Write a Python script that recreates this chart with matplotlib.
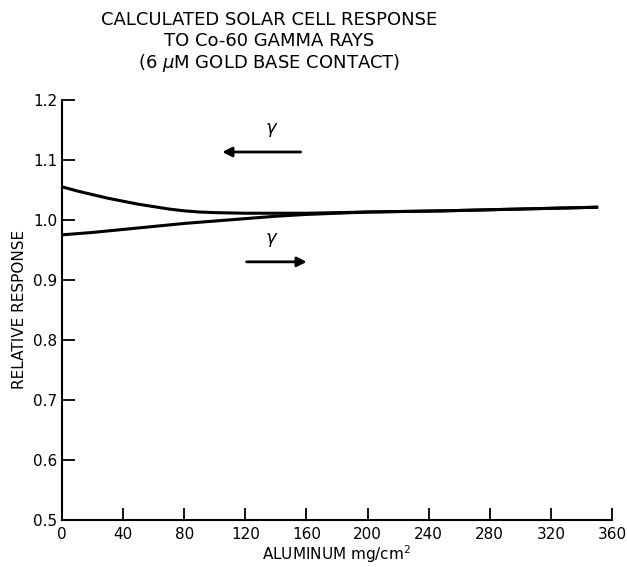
import numpy as np
from matplotlib import pyplot as plt

# aluminum thickness (mg/cm^2) and relative response
x_upper = [0, 10, 20, 30, 40, 50, 60, 70, 80, 90, 100, 120, 140, 160, 200, 250, 300, 350]
y_upper = [1.055, 1.048, 1.042, 1.036, 1.031, 1.026, 1.022, 1.018, 1.015, 1.013, 1.012, 1.011, 1.011, 1.011, 1.013, 1.015, 1.018, 1.021]

x_lower = [0, 20, 40, 60, 80, 100, 120, 140, 160, 200, 250, 300, 350]
y_lower = [0.975, 0.979, 0.984, 0.989, 0.994, 0.998, 1.002, 1.006, 1.009, 1.013, 1.015, 1.018, 1.021]

x_ticks = [0, 40, 80, 120, 160, 200, 240, 280, 320, 360]
y_ticks = [0.5, 0.6, 0.7, 0.8, 0.9, 1.0, 1.1, 1.2]

fig = plt.figure(figsize=(6.27, 5.67), dpi=100)
ax = fig.add_axes([0.099, 0.083, 0.877, 0.741])

ax.plot(x_upper, y_upper, color="black", lw=2.2)
ax.plot(x_lower, y_lower, color="black", lw=2.2)

# gamma arrows
ax.annotate("", xy=(103, 1.113), xytext=(158, 1.113),
            arrowprops=dict(arrowstyle="-|>", color="black", lw=2, mutation_scale=14))
ax.text(137, 1.135, r"$\gamma$", fontsize=13, ha="center", va="bottom")
ax.annotate("", xy=(162, 0.93), xytext=(119, 0.93),
            arrowprops=dict(arrowstyle="-|>", color="black", lw=2, mutation_scale=14))
ax.text(137, 0.952, r"$\gamma$", fontsize=13, ha="center", va="bottom")

ax.set_xlim(0, 360)
ax.set_ylim(0.5, 1.2)
ax.set_xticks(x_ticks)
ax.set_yticks(y_ticks)
ax.set_yticklabels(["0.5", "0.6", "0.7", "0.8", "0.9", "1.0", "1.1", "1.2"])
ax.tick_params(direction="in", length=9, width=1.3, labelsize=11)
ax.tick_params(axis="x", pad=5)
for s in ["top", "right"]:
    ax.spines[s].set_visible(False)
for s in ["left", "bottom"]:
    ax.spines[s].set_linewidth(1.5)

ax.set_xlabel("ALUMINUM mg/cm$^2$", fontsize=11, labelpad=1)
ax.set_ylabel("RELATIVE RESPONSE", fontsize=11, labelpad=4)

fig.text(0.43, 0.965, "CALCULATED SOLAR CELL RESPONSE", ha="center", va="center", fontsize=13)
fig.text(0.43, 0.927, "TO Co-60 GAMMA RAYS", ha="center", va="center", fontsize=13)
fig.text(0.43, 0.889, r"(6 $\mu$M GOLD BASE CONTACT)", ha="center", va="center", fontsize=13)

fig.savefig("out.png", dpi=100)
